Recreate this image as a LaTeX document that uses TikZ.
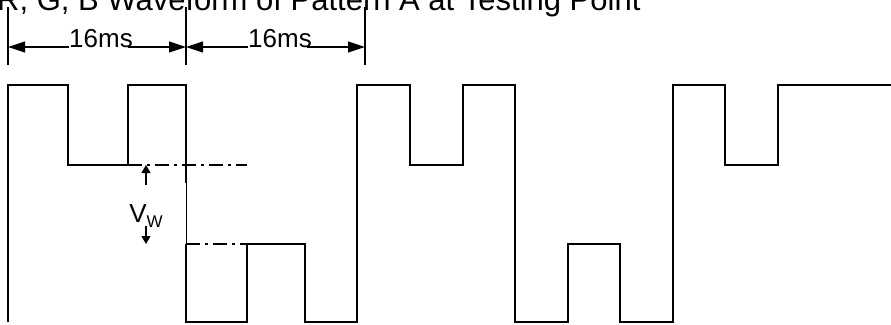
\documentclass[tikz,border=0pt]{standalone}
\usepackage{fontspec}
\setmainfont{Liberation Sans}
\usetikzlibrary{arrows.meta}

\begin{document}
\begin{tikzpicture}[
    x=1pt, y=-1pt,
    wave/.style={line width=1.6pt},
    thinwave/.style={line width=0.8pt},
    level/.style={line width=1.8pt, dash pattern=on 14pt off 5pt on 3pt off 5pt},
    tick/.style={line width=1.2pt},
    dim/.style={line width=1.2pt, -{Triangle[length=17pt,width=11pt]}},
    vwarrow/.style={line width=1.2pt, -{Triangle[length=8pt,width=9pt]}},
    lbl/.style={inner sep=0pt, font=\fontsize{26}{26}\selectfont}
]
    \useasboundingbox (0,0) rectangle (891,324);

    % Title, cut off at the top
    \node[anchor=base west, inner sep=0pt, font=\fontsize{31}{31}\selectfont] (title) at (-3,10)
        {R, G, B Waveform of Pattern A at Testing Point};

    % Period marks
    \draw[tick] (8,7) -- (8,65);
    \draw[tick] (186,7) -- (186,65);
    \draw[tick] (365,7) -- (365,65);
    \coordinate (t0) at (8,47);
    \coordinate (t1) at (186,47);
    \coordinate (t2) at (365,47);

    \node[lbl, anchor=base] (ms1) at (101,47) {16ms};
    \node[lbl, anchor=base] (ms2) at (280,47) {16ms};
    \draw[dim] (ms1.base west) -- (t0);
    \draw[dim] ([xshift=-5pt]ms1.base east) -- (t1);
    \draw[dim] (ms2.base west) -- (t1);
    \draw[dim] ([xshift=-5pt]ms2.base east) -- (t2);

    % Waveform
    \draw[wave] (8,322) -- (8,85) -- (68,85) -- (68,165) -- (128,165) -- (128,85)
        -- (186,85) -- (186,183);
    \draw[thinwave] (186,183) -- (186,244);
    \draw[wave] (186,244) -- (186,322) -- (247,322) -- (247,244) -- (305,244)
        -- (305,322) -- (357,322) -- (357,85) -- (410,85) -- (410,165) -- (463,165)
        -- (463,85) -- (515,85) -- (515,322) -- (568,322) -- (568,244) -- (620,244)
        -- (620,322) -- (673,322) -- (673,85) -- (725,85) -- (725,165) -- (778,165)
        -- (778,85) -- (891,85);

    % Levels and V_W
    \draw[level] (128,165) -- (247,165);
    \draw[level] (186,244) -- (247,244);
    \coordinate (vhi) at (146,165);
    \coordinate (vlo) at (146,244);
    \node[lbl, anchor=base] (vw) at (146,222)
        {V\raisebox{-5pt}{\fontsize{17}{17}\selectfont W}};
    \draw[vwarrow] ([yshift=-20pt]vhi) -- (vhi);
    \draw[vwarrow] ([yshift=18pt]vlo) -- (vlo);
\end{tikzpicture}
\end{document}
